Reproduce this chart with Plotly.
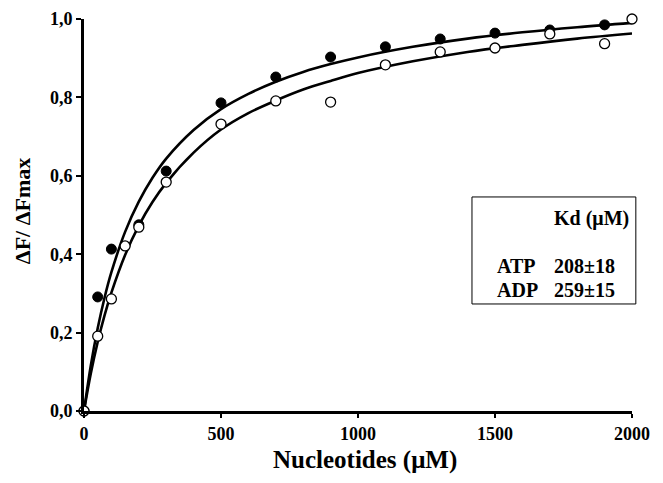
import plotly.graph_objects as go

# Data
x_atp = [0, 50, 100, 200, 300, 500, 700, 900, 1100, 1300, 1500, 1700, 1900]
y_atp = [0, 0.291, 0.413, 0.475, 0.612, 0.786, 0.852, 0.903, 0.929, 0.949, 0.964, 0.972, 0.985]

x_adp = [0, 50, 100, 150, 200, 300, 500, 700, 900, 1100, 1300, 1500, 1700, 1900, 2000]
y_adp = [0, 0.191, 0.286, 0.421, 0.469, 0.584, 0.732, 0.791, 0.788, 0.883, 0.916, 0.926, 0.962, 0.937, 1.0]

fit_x = [0, 25, 50, 75, 100, 150, 200, 250, 300, 400, 500, 600, 700, 800, 900, 1000, 1200, 1400, 1600, 1800, 2000]
atp_fit = [0, 0.117, 0.211, 0.289, 0.354, 0.457, 0.534, 0.595, 0.644, 0.717, 0.770, 0.809, 0.840, 0.865, 0.885, 0.902, 0.929, 0.950, 0.966, 0.979, 0.990]
adp_fit = [0, 0.096, 0.176, 0.244, 0.302, 0.398, 0.473, 0.533, 0.582, 0.659, 0.718, 0.760, 0.792, 0.820, 0.842, 0.862, 0.892, 0.916, 0.934, 0.950, 0.963]

x_ticks = [0, 500, 1000, 1500, 2000]
y_ticks = [0, 0.2, 0.4, 0.6, 0.8, 1.0]
y_tick_labels = ["0,0", "0,2", "0,4", "0,6", "0,8", "1,0"]

kd_rows = [("ATP", "208±18"), ("ADP", "259±15")]

FONT = "Liberation Serif"

fig = go.Figure()
fig.add_trace(go.Scatter(x=fit_x, y=atp_fit, mode="lines", line=dict(color="black", width=2.6, shape="spline"),
                         showlegend=False, hoverinfo="skip", cliponaxis=False))
fig.add_trace(go.Scatter(x=fit_x, y=adp_fit, mode="lines", line=dict(color="black", width=2.6, shape="spline"),
                         showlegend=False, hoverinfo="skip", cliponaxis=False))
fig.add_trace(go.Scatter(x=x_atp, y=y_atp, mode="markers",
                         marker=dict(symbol="circle", size=10, color="black", line=dict(color="black", width=1)),
                         showlegend=False, cliponaxis=False))
fig.add_trace(go.Scatter(x=x_adp, y=y_adp, mode="markers",
                         marker=dict(symbol="circle", size=10, color="white", line=dict(color="black", width=1.3)),
                         showlegend=False, cliponaxis=False))

axis_font = dict(family=FONT, size=18, color="black", weight="bold")

# The page body has an 8px margin: shrink the figure so the plot lands where the reference has it
fig.update_layout(
    width=647, height=467,
    margin=dict(l=76, r=23, t=11, b=64),
    paper_bgcolor="white", plot_bgcolor="white",
    xaxis=dict(range=[0, 2000], tickvals=x_ticks, ticktext=[str(v) for v in x_ticks],
               showline=True, linecolor="black", linewidth=3, ticks="outside", ticklen=4,
               tickwidth=2, tickcolor="black", showgrid=False, zeroline=False, tickfont=axis_font,
               automargin=False),
    yaxis=dict(range=[0, 1.0], tickvals=y_ticks, ticktext=y_tick_labels,
               showline=True, linecolor="black", linewidth=3, ticks="outside", ticklen=5,
               tickwidth=2, tickcolor="black", showgrid=False, zeroline=False, tickfont=axis_font,
               automargin=False),
)

fig.add_annotation(text="Nucleotides (μM)", xref="paper", yref="paper", x=0.513, y=-0.125,
                   xanchor="center", yanchor="middle", showarrow=False,
                   font=dict(family=FONT, size=25, color="black", weight="bold"))
fig.add_annotation(text="ΔF/ ΔFmax", xref="paper", yref="paper", x=-0.113, y=0.51,
                   xanchor="center", yanchor="middle", showarrow=False, textangle=-90,
                   font=dict(family=FONT, size=22, color="black", weight="bold"))

# Kd box
fig.add_shape(type="rect", xref="paper", yref="paper", x0=0.708, x1=1.007, y0=0.273, y1=0.546,
              line=dict(color="black", width=1), fillcolor="white", layer="above")
box_font = dict(family=FONT, size=20, color="black", weight="bold")
fig.add_annotation(text="Kd (μM)", xref="paper", yref="paper", x=0.854, y=0.492,
                   xanchor="left", yanchor="middle", showarrow=False, font=box_font)
row_y = [0.370, 0.309]
for (name, val), yy in zip(kd_rows, row_y):
    fig.add_annotation(text=name, xref="paper", yref="paper", x=0.750, y=yy,
                       xanchor="left", yanchor="middle", showarrow=False, font=box_font)
    fig.add_annotation(text=val, xref="paper", yref="paper", x=0.854, y=yy,
                       xanchor="left", yanchor="middle", showarrow=False, font=box_font)

fig.write_html("out.html")
